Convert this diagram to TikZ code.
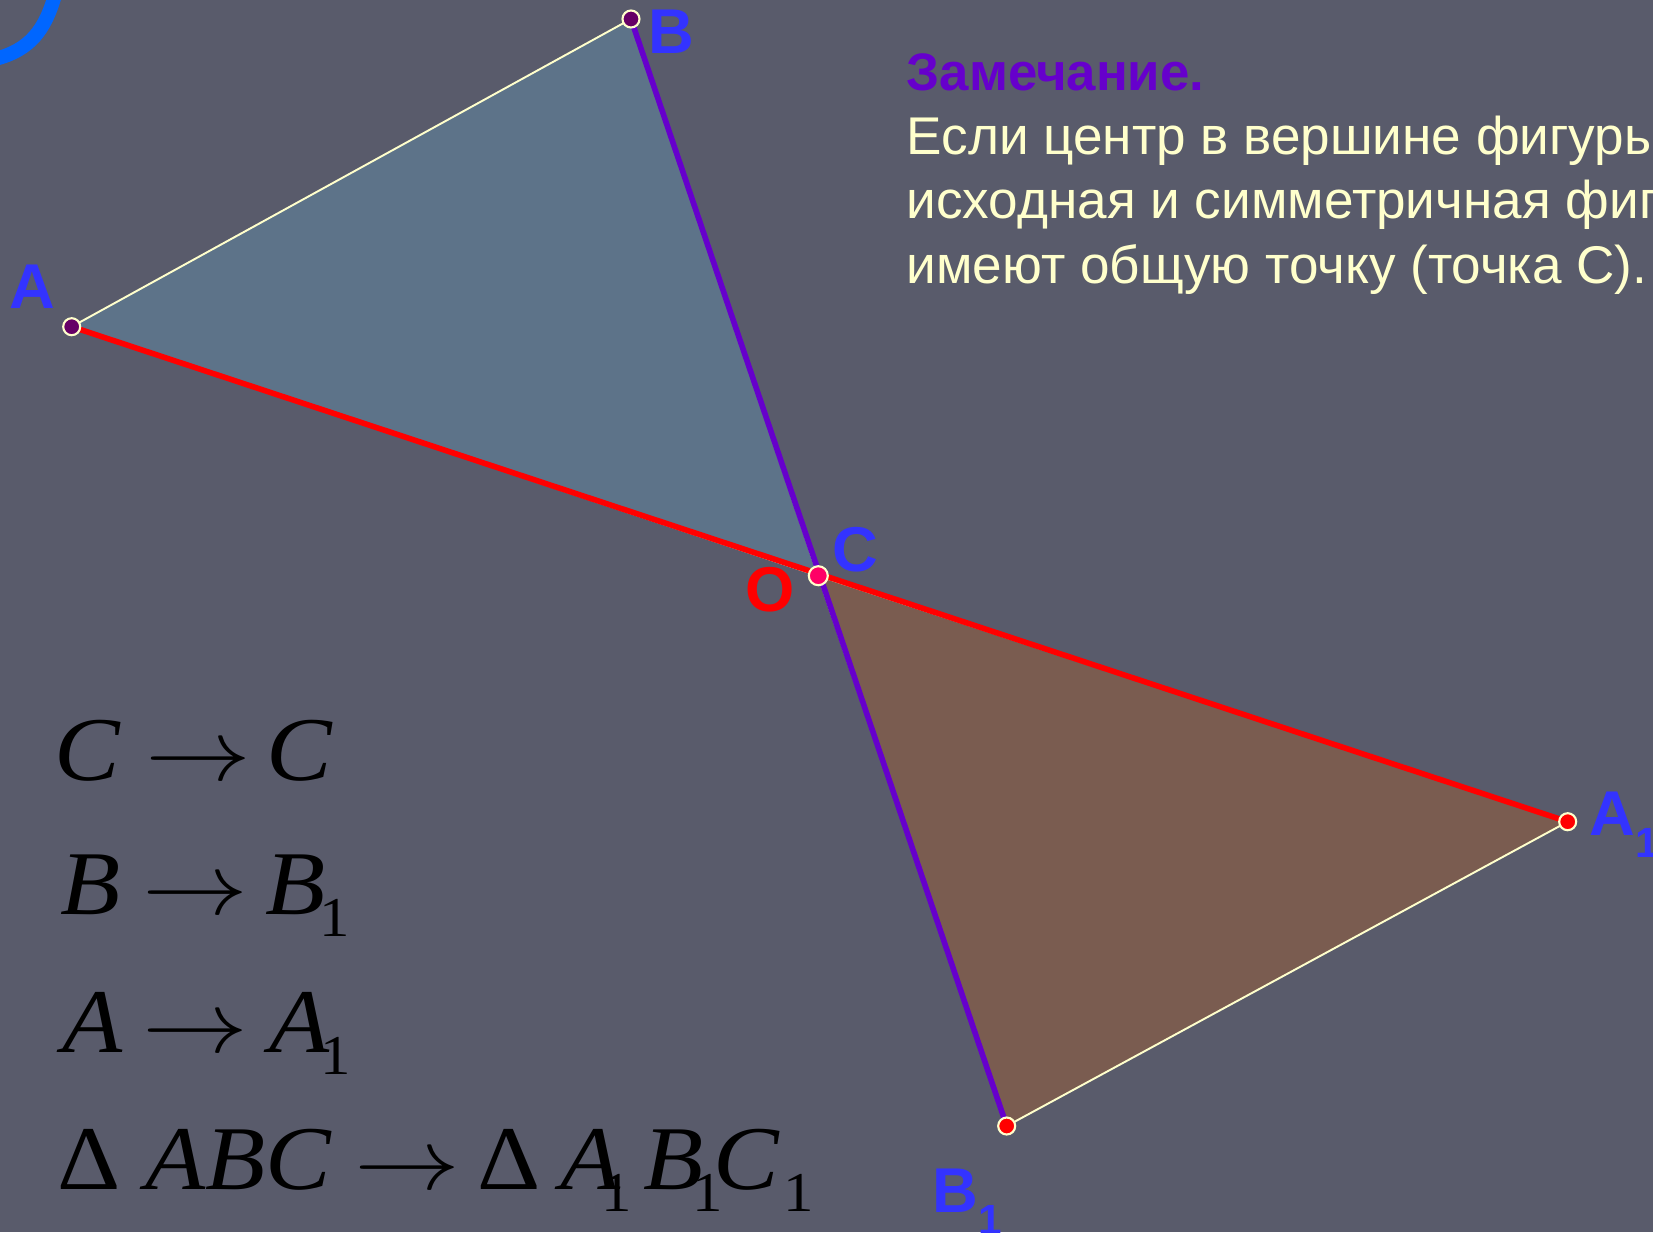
\documentclass[tikz,border=0pt]{standalone}
\usepackage{fontspec}
\usepackage{graphicx}
\setmainfont{Liberation Sans}
\newfontfamily\formfont{Liberation Serif}
\usetikzlibrary{positioning}
\definecolor{bgslate}{RGB}{89,91,107}
\definecolor{triblue}{RGB}{93,115,137}
\definecolor{tribrown}{RGB}{122,92,80}
\definecolor{edgecream}{RGB}{255,255,204}
\definecolor{violetline}{RGB}{102,0,204}
\definecolor{darkplum}{RGB}{102,0,102}
\definecolor{centrepink}{RGB}{255,0,102}
\definecolor{labelblue}{RGB}{51,51,255}
\definecolor{arcblue}{RGB}{0,102,255}
\newcommand\fsub[1]{\raisebox{-6.4pt}{\fontsize{16}{16}\selectfont #1}}
\newcommand\lsub[1]{\raisebox{-6.5pt}{\fontsize{12}{12}\selectfont #1}}
\newcommand\wide[1]{\scalebox{1.08}[1]{#1}}
\newcommand\farrow{\scalebox{1.12}[1]{$\rightarrow$}}
\begin{document}
\begin{tikzpicture}[x=0.01cm, y=-0.01cm]
\tikzset{pt/.style={circle, draw=edgecream, line width=0.6pt, inner sep=0pt, minimum size=0.17cm}}
\tikzset{ptlabel/.style={font=\fontsize{18}{20}\selectfont\bfseries, text=labelblue, inner sep=0pt, anchor=base west}}
\tikzset{formula/.style={font=\formfont\fontsize{25.9}{28}\selectfont, text=black, inner sep=0pt, anchor=base west}}
\tikzset{notetext/.style={font=\fontsize{15.1}{18}\selectfont, text=edgecream, inner sep=0pt, anchor=base west}}
\tikzset{side/.style={draw=edgecream, line width=0.55pt}}
\tikzset{axisline/.style={line width=1.6pt}}

\useasboundingbox (0,0) rectangle (1653,1232);
\clip (0,0) rectangle (1653,1232);
\fill[bgslate] (0,0) rectangle (1653,1232);
\draw[arcblue, line width=4pt] (-5,59) .. controls (30,50) and (45,30) .. (55,-5);

\coordinate (A) at (71.7,326.7);
\coordinate (B) at (631,19);
\coordinate (C) at (818.3,575.7);
\coordinate (A1) at (1567.7,821.7);
\coordinate (B1) at (1006.7,1126);

\filldraw[side, fill=triblue] (A) -- (B) -- (C) -- cycle;
\filldraw[side, fill=tribrown] (A1) -- (B1) -- (C) -- cycle;
\draw[axisline, red] (A) -- (A1);
\draw[axisline, violetline] (B) -- (B1);

\node[pt, fill=darkplum] (dotA) at (A) {};
\node[pt, fill=darkplum] (dotB) at (B) {};
\node[pt, fill=centrepink, minimum size=0.19cm] (dotC) at (C) {};
\node[pt, fill=red] (dotA1) at (A1) {};
\node[pt, fill=red] (dotB1) at (B1) {};

\node[ptlabel] (labA) at (9,308) {A};
\node[ptlabel] (labB) at (648,53) {B};
\node[ptlabel] (labC) at (832,571) {C};
\node[ptlabel, text=red] (labO) at (745,611) {O};
\node[ptlabel] (labA1) at (1589,835) {A\lsub{1}};
\node[ptlabel] (labB1) at (932,1212) {B\lsub{1}};

\node[notetext, font=\fontsize{15}{18}\selectfont\bfseries, text=violetline] (noteTitle) at (906,90.7) {Замечание.};
\node[notetext] (noteLine1) at (906,154) {Если центр в вершине фигуры};
\node[notetext] (noteLine2) at (906,218) {исходная и симметричная фигуры};
\node[notetext] (noteLine3) at (906,283) {имеют общую точку (точка C).};

\node[formula] (mapC) at (54,780) {\wide{\textit{C}\hspace{6.5pt}\farrow\hspace{4pt}\textit{C}}};
\node[formula] (mapB) at (60,914) {\wide{\textit{B}\hspace{5.7pt}\farrow\hspace{4.5pt}\textit{B}\hspace{-1.5pt}\fsub{1}}};
\node[formula] (mapA) at (62,1052) {\wide{\textit{A}\hspace{5.2pt}\farrow\hspace{5.5pt}\textit{A}\hspace{-2.5pt}\fsub{1}}};
\node[formula] (mapT) at (57,1189) {\wide{Δ\hspace{6.5pt}\textit{ABC}\hspace{5.8pt}\farrow\hspace{4.6pt}Δ\hspace{5.1pt}\textit{A}\hspace{-5pt}\fsub{1}\hspace{3pt}\textit{B}\hspace{-3pt}\fsub{1}\hspace{-2.3pt}\textit{C}\hspace{0.8pt}\fsub{1}}};
\end{tikzpicture}
\end{document}
